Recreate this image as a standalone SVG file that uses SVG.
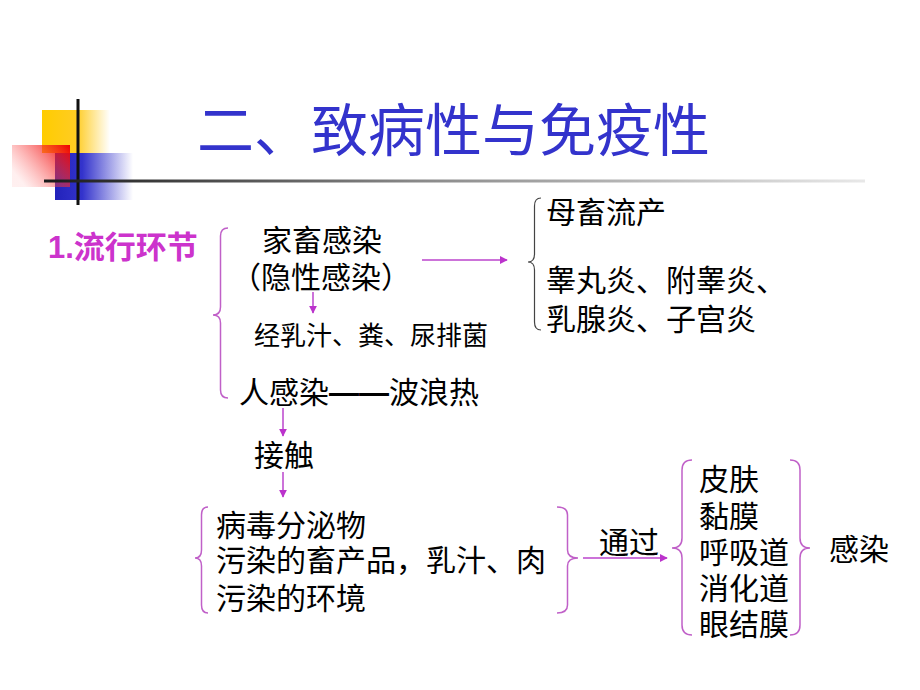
<svg xmlns="http://www.w3.org/2000/svg" width="920" height="690" viewBox="0 0 920 690">
<defs>
<linearGradient id="gy" x1="0" y1="0" x2="1" y2="0"><stop offset="0" stop-color="#ffcc00"/><stop offset="0.5" stop-color="#ffcc22"/><stop offset="1" stop-color="#ffcc22" stop-opacity="0"/></linearGradient>
<linearGradient id="gr" x1="1" y1="0" x2="0" y2="0.6"><stop offset="0" stop-color="#ee0000"/><stop offset="1" stop-color="#ff6666" stop-opacity="0.1"/></linearGradient>
<linearGradient id="gb" x1="0" y1="0" x2="1" y2="0"><stop offset="0" stop-color="#2222bb"/><stop offset="0.35" stop-color="#3333cc"/><stop offset="1" stop-color="#3333cc" stop-opacity="0"/></linearGradient>
<linearGradient id="gl" x1="0" y1="0" x2="1" y2="0"><stop offset="0" stop-color="#1a1a1a"/><stop offset="0.45" stop-color="#888"/><stop offset="1" stop-color="#e8e8e8"/></linearGradient>
<marker id="ah" viewBox="0 0 10 10" refX="9" refY="5" markerWidth="8" markerHeight="8" markerUnits="userSpaceOnUse" orient="auto"><path d="M0,0 L10,5 L0,10 z" fill="#bb33cc"/></marker>
</defs>
<style>
.t{font-family:"Noto Sans CJK SC","Noto Sans CJK TC",sans-serif;font-size:30px;fill:#000}
.s{font-size:26px}
.br{fill:none;stroke:#c060c8;stroke-width:1.5}
.ar{fill:none;stroke:#bb44cc;stroke-width:1.5;marker-end:url(#ah)}
</style>
<g id="decor">
<rect x="42" y="110" width="68" height="43" fill="url(#gy)"/>
<rect x="55" y="153" width="78" height="47" fill="url(#gb)"/>
<rect x="12" y="145" width="58" height="42" fill="url(#gr)"/>
<rect x="76.5" y="99" width="3" height="106" fill="#111"/>
<rect x="44" y="179.5" width="821" height="3" fill="url(#gl)"/>
</g>
<g id="title"><text x="197" y="151" style="font-family:'Noto Sans CJK SC',sans-serif;font-size:57px;fill:#3333cc">二、致病性与免疫性</text></g>
<g id="label1"><text x="48" y="258" style="font-family:'Liberation Sans','Noto Sans CJK SC',sans-serif;font-size:31px;font-weight:bold;fill:#cc33cc">1.流行环节</text></g>
<g id="n-livestock"><text class="t"><tspan x="262" y="251">家畜感染</tspan><tspan x="231" y="288">（隐性感染）</tspan></text></g>
<g id="n-shed"><text class="t s" x="254" y="345">经乳汁、粪、尿排菌</text></g>
<g id="n-human"><text class="t" x="239" y="403">人感染<tspan x="329" style="font-family:'Liberation Sans',sans-serif;font-weight:bold">——</tspan><tspan x="389">波浪热</tspan></text></g>
<g id="n-result"><text class="t"><tspan x="546" y="223">母畜流产</tspan><tspan x="546" y="291">睾丸炎、附睾炎、</tspan><tspan x="546" y="330">乳腺炎、子宫炎</tspan></text></g>
<g id="n-contact"><text class="t" x="254" y="466">接触</text></g>
<g id="n-sources"><text class="t"><tspan x="216" y="536">病毒分泌物</tspan><tspan x="216" y="571">污染的畜产品，乳汁、肉</tspan><tspan x="216" y="609">污染的环境</tspan></text></g>
<g id="n-via"><text class="t" x="599" y="553">通过</text></g>
<g id="n-routes"><text class="t"><tspan x="699" y="490">皮肤</tspan><tspan x="699" y="527">黏膜</tspan><tspan x="699" y="563">呼吸道</tspan><tspan x="699" y="599">消化道</tspan><tspan x="699" y="635">眼结膜</tspan></text></g>
<g id="n-infect"><text class="t" x="829" y="560">感染</text></g>
<g id="connectors">
<path class="br" d="M228,228 Q220.5,228 220.5,236 L220.5,307 Q220.5,315 213,315 Q220.5,315 220.5,323 L220.5,390 Q220.5,398 228,398"/>
<path class="br" style="stroke:#444;stroke-width:1.2" d="M541,198 Q534.5,198 534.5,206 L534.5,254 Q534.5,262 528,262 Q534.5,262 534.5,270 L534.5,322 Q534.5,330 541,330"/>
<path class="br" d="M208,507 Q201.5,507 201.5,515 L201.5,550 Q201.5,558 195,558 Q201.5,558 201.5,566 L201.5,605 Q201.5,613 208,613"/>
<path class="br" d="M557,507 Q567.5,507 567.5,515 L567.5,550 Q567.5,558 578,558 Q567.5,558 567.5,566 L567.5,605 Q567.5,613 557,613"/>
<path class="br" d="M692,460 Q682,460 682,470 L682,538 Q682,548 672,548 Q682,548 682,558 L682,625 Q682,635 692,635"/>
<path class="br" d="M790,460 Q800,460 800,470 L800,538 Q800,548 810,548 Q800,548 800,558 L800,625 Q800,635 790,635"/>
<line class="ar" x1="422" y1="260" x2="507" y2="260"/>
<line class="ar" x1="313" y1="292" x2="313" y2="313"/>
<line class="ar" x1="283" y1="408" x2="283" y2="436"/>
<line class="ar" x1="283" y1="472" x2="283" y2="497"/>
<line class="ar" x1="583" y1="558" x2="667" y2="558"/>
</g>
</svg>
